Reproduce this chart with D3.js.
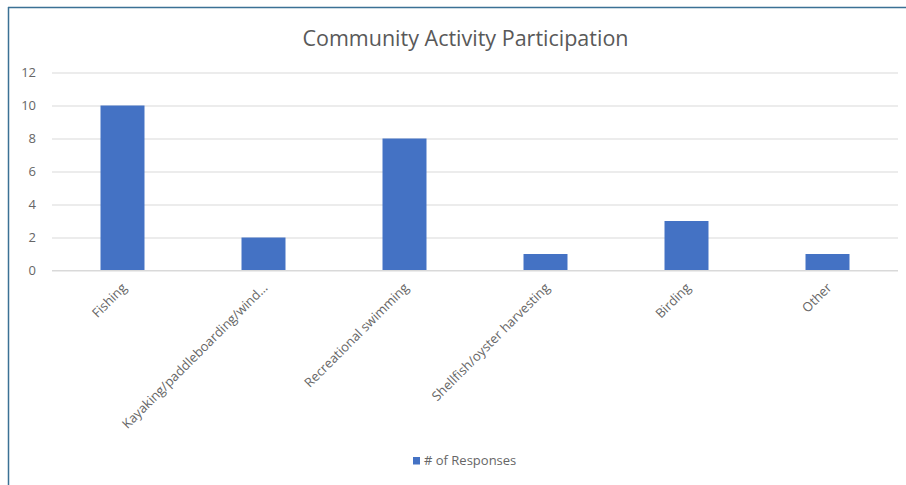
<!DOCTYPE html>
<html>
<head>
<meta charset="utf-8">
<script src="https://cdn.jsdelivr.net/npm/d3@7"></script>
<style>
  html, body { margin: 0; padding: 0; background: #fff; }
  svg { display: block; }
  text { font-family: "Open Sans", "Liberation Sans", sans-serif; }
</style>
</head>
<body>
<div id="chart"></div>
<script>
// Survey results: participation in community water activities
const categories = [
  "Fishing",
  "Kayaking/paddleboarding/wind…",
  "Recreational swimming",
  "Shellfish/oyster harvesting",
  "Birding",
  "Other"
];
const responses = [10, 2, 8, 1, 3, 1];
const yTicks = [0, 2, 4, 6, 8, 10, 12];
const chartTitle = "Community Activity Participation";
const seriesName = "# of Responses";

const W = 906, H = 485;
const margin = { left: 52, right: 8, top: 72.5, bottom: 214.5 };
const textColor = "#666666";
const gridColor = "#d9d9d9";
const barColor = "#4472C4";

const svg = d3.select("#chart").append("svg")
  .attr("width", W).attr("height", H);

// frame edges of the chart area
svg.append("line").attr("x1", 8).attr("x2", W).attr("y1", 7.5).attr("y2", 7.5)
  .attr("stroke", "#3b7195").attr("stroke-width", 1.5);
svg.append("line").attr("x1", 8.5).attr("x2", 8.5).attr("y1", 7).attr("y2", H)
  .attr("stroke", "#3b7195").attr("stroke-width", 1.5);

const x = d3.scaleBand()
  .domain(categories)
  .range([margin.left, W - margin.right])
  .paddingInner(0.688)
  .paddingOuter(0.344);

const y = d3.scaleLinear()
  .domain([0, 12])
  .range([H - margin.bottom, margin.top]);

// title
svg.append("text")
  .attr("x", 465.5).attr("y", 45.5)
  .attr("text-anchor", "middle")
  .attr("font-size", 21.5)
  .attr("fill", "#595959")
  .text(chartTitle);

// horizontal gridlines + y tick labels
const yAxis = d3.axisLeft(y)
  .tickValues(yTicks)
  .tickSize(-(W - margin.right - margin.left))
  .tickPadding(16);

const gy = svg.append("g")
  .attr("transform", `translate(${margin.left},0)`)
  .call(yAxis);
gy.select(".domain").remove();
gy.selectAll(".tick line").attr("stroke", gridColor).attr("stroke-width", 1);
gy.selectAll(".tick text")
  .attr("fill", textColor)
  .attr("font-size", 13)
  .attr("font-family", "'Open Sans', sans-serif");

// bars
svg.append("g").selectAll("rect")
  .data(categories)
  .join("rect")
  .attr("x", d => x(d))
  .attr("width", x.bandwidth())
  .attr("y", (d, i) => y(responses[i]))
  .attr("height", (d, i) => y(0) - y(responses[i]))
  .attr("fill", barColor);

// category axis
const xAxis = d3.axisBottom(x).tickSize(0).tickPadding(0);
const gx = svg.append("g")
  .attr("transform", `translate(0,${y(0)})`)
  .call(xAxis);
gx.select(".domain").attr("stroke", gridColor).attr("d", `M${margin.left},0H${W - margin.right}`);
gx.selectAll(".tick text")
  .attr("fill", textColor)
  .attr("font-size", 13)
  .attr("font-family", "'Open Sans', sans-serif")
  .attr("text-anchor", "end")
  .attr("dy", 0)
  .attr("transform", "translate(5,18) rotate(-45)");

// legend
const legend = svg.append("g").attr("transform", "translate(413,457)");
legend.append("rect").attr("width", 7).attr("height", 7.5).attr("fill", barColor);
legend.append("text")
  .attr("x", 11).attr("y", 8)
  .attr("font-size", 13)
  .attr("fill", textColor)
  .text(seriesName);
</script>
</body>
</html>
